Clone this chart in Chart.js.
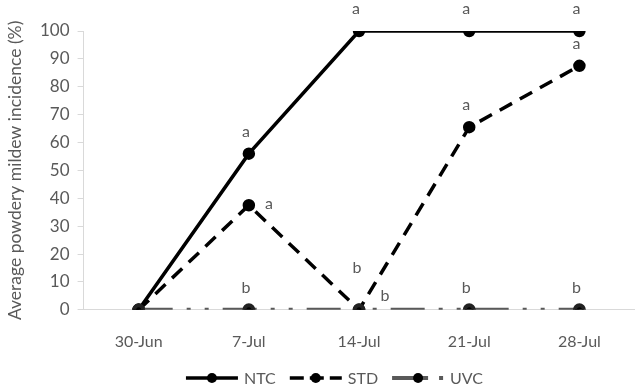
<!DOCTYPE html>
<html>
<head>
<meta charset="UTF-8">
<script src="https://cdn.jsdelivr.net/npm/chart.js@4.4.0/dist/chart.umd.min.js"></script>
<style>
  body { margin: 0; background: #fff; }
  #wrap { width: 643px; height: 392px; }
</style>
</head>
<body>
<div id="wrap"><canvas id="mildewChart"></canvas></div>
<script>
// data
const dates = ['30-Jun', '7-Jul', '14-Jul', '21-Jul', '28-Jul'];
const ntc = [0, 56, 100, 100, 100];
const std = [0, 37.5, 0, 65.5, 87.5];
const uvc = [0, 0, 0, 0, 0];
const yTicks = [0, 10, 20, 30, 40, 50, 60, 70, 80, 90, 100];

// significance letters
const ntcLetters = ['', 'a', 'a', 'a', 'a'];
const stdLetters = ['', 'a', 'b', 'a', 'a'];
const uvcLetters = ['', 'b', 'b', 'b', 'b'];

// where each letter sits relative to its point
const ntcPlace = ['', 'top', 'top', 'top', 'top'];
const stdPlace = ['', 'right', 'high', 'top', 'top'];
const uvcPlace = ['', 'top', 'topright', 'top', 'top'];

const grey = '#595959';
const font = 'Lato, "Open Sans", sans-serif';

const offsets = {
    top: [-3, -22],
    right: [20, -1],
    high: [-2, -42],
    topright: [26, -14]
};

const letterPlugin = {
    id: 'letters',
    afterDatasetsDraw(chart) {
        const ctx = chart.ctx;
        ctx.save();
        ctx.font = '16px ' + font;
        ctx.fillStyle = grey;
        ctx.textAlign = 'center';
        ctx.textBaseline = 'middle';
        chart.data.datasets.forEach((ds, i) => {
            const meta = chart.getDatasetMeta(i);
            ds.letters.forEach((txt, j) => {
                if (!txt) return;
                const p = meta.data[j];
                const off = offsets[ds.places[j]];
                ctx.fillText(txt, p.x + off[0], p.y + off[1]);
            });
        });
        ctx.restore();
    }
};

// legend drawn by hand so the line samples keep their dash patterns
const lineLegend = {
    id: 'lineLegend',
    afterDraw(chart) {
        const ctx = chart.ctx;
        ctx.save();
        ctx.font = '16px ' + font;
        const sample = 52, gap = 6, spacing = 14;
        const items = chart.data.datasets.map(ds => ({ ds, w: sample + gap + ctx.measureText(ds.label).width }));
        let total = items.reduce((s, it) => s + it.w, 0) + spacing * (items.length - 1);
        let x = (chart.width - total) / 2 + 13;
        const y = 378;
        items.forEach(it => {
            const ds = it.ds;
            ctx.beginPath();
            ctx.setLineDash(ds.legendDash || ds.borderDash || []);
            ctx.strokeStyle = ds.borderColor;
            ctx.lineWidth = ds.borderWidth;
            ctx.moveTo(x, y);
            ctx.lineTo(x + sample, y);
            ctx.stroke();
            ctx.setLineDash([]);
            ctx.beginPath();
            ctx.fillStyle = ds.pointBackgroundColor;
            ctx.arc(x + sample / 2, y, 5, 0, Math.PI * 2);
            ctx.fill();
            ctx.fillStyle = grey;
            ctx.textBaseline = 'middle';
            ctx.textAlign = 'left';
            ctx.fillText(ds.label, x + sample + gap, y + 1);
            x += it.w + spacing;
        });
        ctx.restore();
    }
};

new Chart(document.getElementById('mildewChart').getContext('2d'), {
    type: 'line',
    data: {
        labels: dates,
        datasets: [
            {
                label: 'NTC', data: ntc, letters: ntcLetters, places: ntcPlace,
                borderColor: '#000', borderWidth: 3.5, borderDash: [],
                pointBackgroundColor: '#000', pointBorderColor: '#000', pointRadius: 4.5,
                tension: 0, order: 3
            },
            {
                label: 'STD', data: std, letters: stdLetters, places: stdPlace,
                borderColor: '#000', borderWidth: 3.5, borderDash: [14, 9],
                legendDash: [14, 6],
                pointBackgroundColor: '#000', pointBorderColor: '#000', pointRadius: 4.5,
                tension: 0, order: 2
            },
            {
                label: 'UVC', data: uvc, letters: uvcLetters, places: uvcPlace,
                borderColor: grey, borderWidth: 4, borderDash: [34, 14, 4, 14, 4, 14],
                legendDash: [36, 11, 4, 100],
                pointBackgroundColor: '#000', pointBorderColor: '#222', pointRadius: 4.5,
                tension: 0, order: 1
            }
        ]
    },
    options: {
        responsive: true,
        maintainAspectRatio: false,
        animation: false,
        layout: { padding: { top: 31, right: 0, left: 5, bottom: 27 } },
        plugins: {
            legend: { display: false },
            tooltip: { enabled: false }
        },
        scales: {
            x: {
                offset: true,
                grid: { display: false },
                border: { color: '#d9d9d9', width: 1 },
                ticks: { color: grey, font: { family: font, size: 16 }, padding: 14, maxRotation: 0 }
            },
            y: {
                min: 0, max: 100,
                afterBuildTicks(axis) { axis.ticks = yTicks.map(v => ({ value: v })); },
                grid: { drawOnChartArea: false, drawTicks: true, tickLength: 6, color: '#d9d9d9' },
                border: { color: '#d9d9d9', width: 1 },
                ticks: { color: grey, font: { family: font, size: 17 }, padding: 8 },
                title: {
                    display: true,
                    text: 'Average powdery mildew incidence (%)',
                    color: grey,
                    font: { family: font, size: 17.5 },
                    padding: { top: 0, bottom: 6 }
                }
            }
        }
    },
    plugins: [letterPlugin, lineLegend]
});
</script>
</body>
</html>
